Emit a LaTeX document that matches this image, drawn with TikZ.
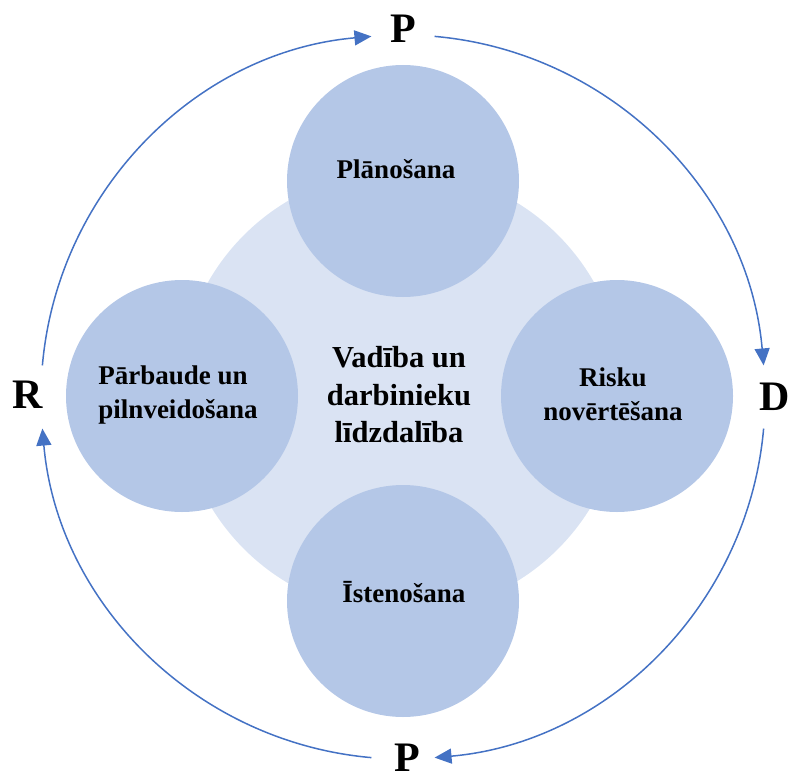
\documentclass[tikz,border=0pt]{standalone}
\usepackage{fontspec}
\setmainfont{Liberation Serif}
\usetikzlibrary{arrows.meta,calc}
\definecolor{ringblue}{HTML}{4472C4}
\definecolor{hubfill}{HTML}{DAE3F3}
\definecolor{petalfill}{HTML}{B4C7E7}
\begin{document}
\begin{tikzpicture}[x=1pt,y=-1pt,
  petal/.style={circle,fill=petalfill,minimum size=232pt,inner sep=0pt},
  hub/.style={circle,fill=hubfill,minimum size=444pt,inner sep=0pt},
  lbl/.style={font=\bfseries\fontsize{27}{34}\selectfont,align=center,inner sep=0pt},
  hublbl/.style={font=\bfseries\fontsize{30.5}{37.5}\selectfont,align=center,inner sep=0pt},
  corner/.style={font=\bfseries\fontsize{42}{42}\selectfont,inner sep=0pt,anchor=base},
  cyclearrow/.style={ringblue,line width=1.5pt,-{Triangle[length=17pt,width=15pt]}}]
\useasboundingbox (0,0) rectangle (793,776);

% central disc and the four stage discs
\node[hub] (hub) at (401,392) {};
\node[petal] (plan) at (403,181) {};
\node[petal] (check) at (182,396) {};
\node[petal] (risk) at (617,396) {};
\node[petal] (act) at (403,601) {};

% labels
\node[hublbl] (hubtext) at (399,395) {Vadība un\\darbinieku\\līdzdalība};
\node[lbl,anchor=base] (plantext) at (396,178) {Plānošana};
\node[lbl,anchor=base] (acttext) at (404,602) {Īstenošana};
\node[lbl,align=left] (checktext) at (178,395) {Pārbaude un\\pilnveidošana};
\node[lbl] (risktext) at (613,394) {Risku\\novērtēšana};

% cycle letters
\node[corner] (ptop) at (403,43) {P};
\node[corner] (dright) at (775,410) {D};
\node[corner] (rleft) at (28,408) {R};
\node[corner] (pbot) at (407,771) {P};

% ring of the cycle
\coordinate (ring) at (403,397);
\coordinate (a1) at ($(ring)+(185:362)$);
\coordinate (a2) at ($(ring)+(275:362)$);
\coordinate (a3) at ($(ring)+(5:362)$);
\coordinate (a4) at ($(ring)+(95:362)$);
\draw[cyclearrow] (a1) arc[start angle=185,end angle=265,radius=362];
\draw[cyclearrow] (a2) arc[start angle=275,end angle=355,radius=362];
\draw[cyclearrow] (a3) arc[start angle=5,end angle=85,radius=362];
\draw[cyclearrow] (a4) arc[start angle=95,end angle=175,radius=362];
\end{tikzpicture}
\end{document}
